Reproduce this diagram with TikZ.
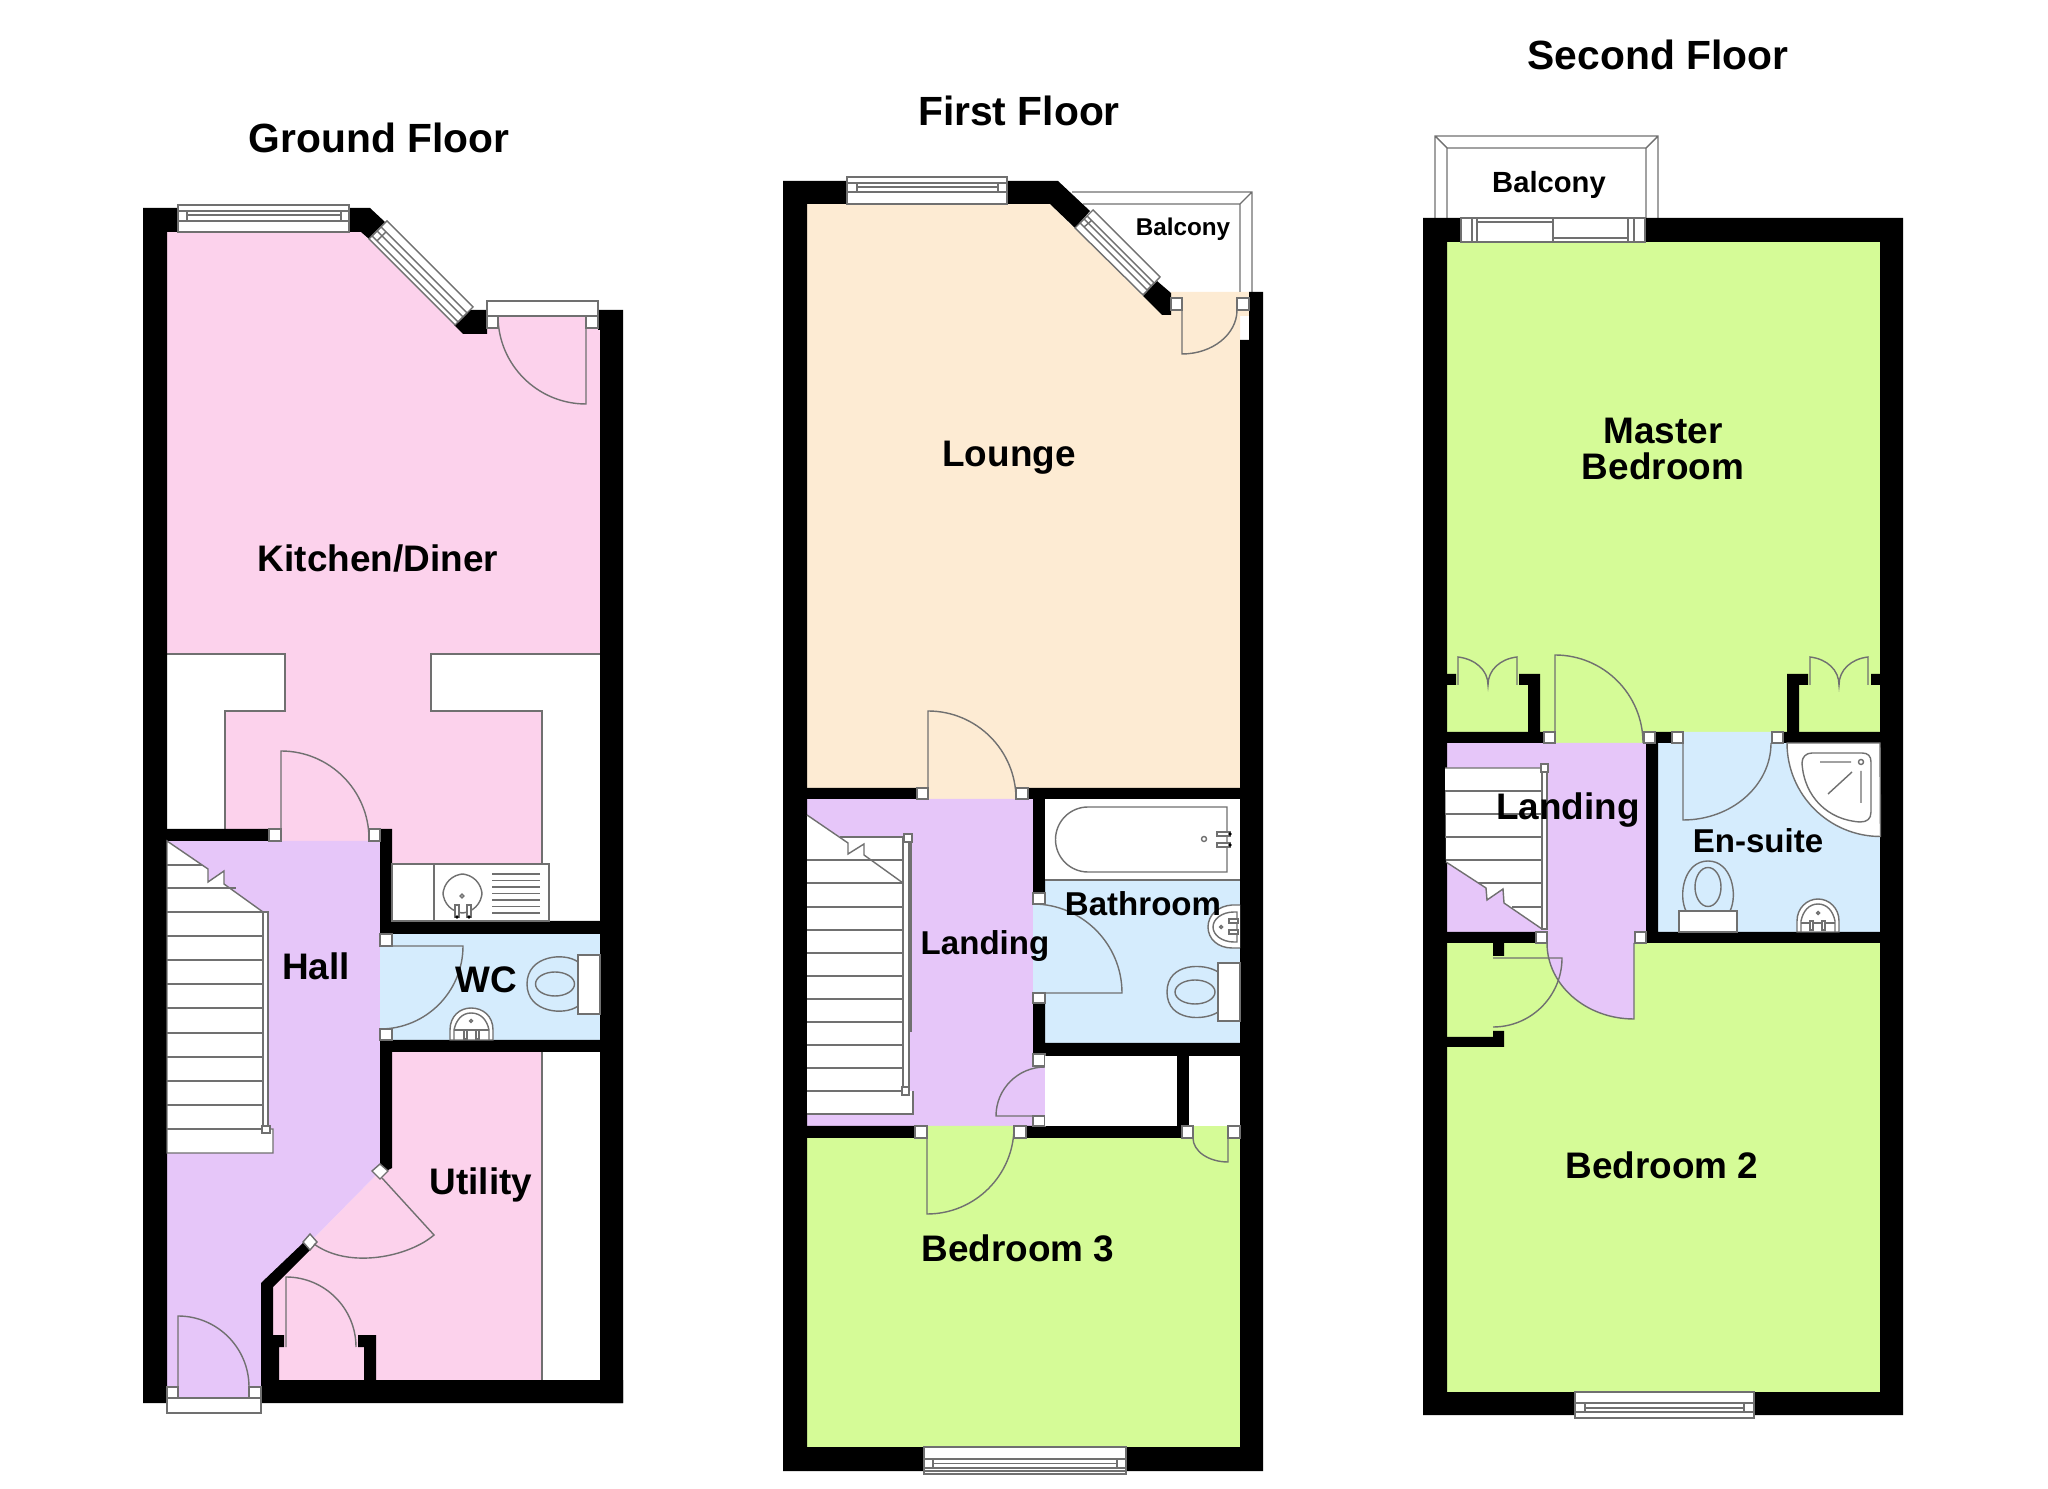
\documentclass[tikz,border=0pt]{standalone}
\usepackage{fontspec}
\setmainfont{Liberation Sans}
\definecolor{pinkroom}{HTML}{FCD2EC}
\definecolor{lavroom}{HTML}{E6C6F9}
\definecolor{blueroom}{HTML}{D5ECFD}
\definecolor{creamroom}{HTML}{FDEBD3}
\definecolor{greenroom}{HTML}{D5FB97}
\definecolor{planline}{HTML}{707070}
\tikzset{
  wall/.style={fill=black},
  fitting/.style={draw=planline,line width=0.4pt},
  whitepart/.style={fitting,fill=white},
  jamb/.style={whitepart},
  tap/.style={draw=planline,line width=0.4pt,fill=white},
  lbl/.style={font=\fontsize{10.5}{10.5}\selectfont\bfseries,inner sep=0pt,align=center},
  lblsmall/.style={font=\fontsize{9.4}{9.4}\selectfont\bfseries,inner sep=0pt},
  ttl/.style={font=\fontsize{11.6}{11.6}\selectfont\bfseries,inner sep=0pt}
}
\begin{document}
\begin{tikzpicture}[x=0.01cm,y=-0.01cm]
\useasboundingbox (0,0) rectangle (2048,1489);
\fill[pinkroom] (167,232) -- (361,232) -- (463,334) -- (487,334) -- (487,316) -- (598,316) -- (600,334) -- (600,654) -- (431,654) -- (431,711) -- (542,711) -- (542,864) -- (392,864) -- (392,841) -- (225,841) -- (225,711) -- (285,711) -- (285,654) -- (167,654) -- cycle;
\fill[pinkroom] (392,1052) -- (542,1052) -- (542,1380) -- (279,1380) -- (279,1347) -- (273,1335) -- (273,1287) -- (310,1242) -- (380,1171) -- (392,1168) -- cycle;
\fill[lavroom] (167,841) -- (380,841) -- (380,1171) -- (310,1242) -- (261,1283) -- (261,1398) -- (167,1398) -- cycle;
\fill[blueroom] (380,934) rectangle (600,1040);
\draw[fitting] (167,654) -- (285,654) -- (285,711) -- (225,711) -- (225,829);
\draw[fitting] (600,654) -- (431,654) -- (431,711) -- (542,711) -- (542,864);
\draw[fitting] (542,1052) -- (542,1380);
\fill[wall] (143,208) rectangle (167,1403) (167,208) rectangle (178,232) (600,310) rectangle (623,1403) (598,310) rectangle (600,330);
\fill[wall] (349,208) -- (370,208) -- (385,222) -- (369,239) -- (361,232) -- (349,232) -- cycle;
\fill[wall] (468,310) -- (487,310) -- (487,334) -- (463,334) -- (454,325) -- cycle;
\fill[wall] (167,829) rectangle (269,841) (380,829) rectangle (392,934) (392,921) rectangle (600,934) (380,1040) rectangle (600,1052);
\fill[wall] (380,1052) -- (392,1052) -- (392,1168) -- (386,1171) -- (380,1164) -- cycle;
\fill[wall] (303,1243) -- (261,1283) -- (261,1403) -- (623,1403) -- (623,1380) -- (279,1380) -- (279,1347) -- (284,1347) -- (284,1335) -- (273,1335) -- (273,1287) -- (310,1250) -- cycle;
\fill[wall] (358,1335) rectangle (376,1347) (364,1347) rectangle (376,1380);
\draw[whitepart] (178,205) rectangle (349,232);
\draw[fitting] (178,211) -- (349,211) (187,215) -- (341,215) (178,221) -- (349,221) (187,211) -- (187,221) (341,211) -- (341,221);
\draw[whitepart] (387,221) -- (473,307) -- (455,325) -- (369,239) -- cycle;
\draw[fitting] (381,227) -- (467,313) (377,231) -- (463,317) (372,236) -- (458,322) (381,227) -- (372,236) (467,313) -- (458,322) (386,232) -- (377,241);
\draw[whitepart] (487,301) rectangle (598,316);
\draw[jamb] (487,316) rectangle (498,328);
\draw[jamb] (586,316) rectangle (598,328);
\draw[fitting] (498,316) arc[start angle=180,end angle=90,radius=88] -- (586,316);
\draw[jamb] (269,829) rectangle (281,841);
\draw[jamb] (369,829) rectangle (380,841);
\draw[fitting] (281,841) -- (281,751) arc[start angle=-90,end angle=0,radius=88] -- (369,829);
\draw[jamb] (380,934) rectangle (392,946);
\draw[jamb] (380,1029) rectangle (392,1040);
\draw[fitting] (380,946) -- (463,946) arc[start angle=0,end angle=90,radius=83];
\draw[whitepart] (578,955) rectangle (600,1014);
\draw[fitting] (578,962) .. controls (565,952) and (527,955) .. (527,984) .. controls (527,1013) and (565,1016) .. (578,1006);
\draw[fitting] (555,984) ellipse [x radius=19.5,y radius=12];
\draw[whitepart] (450,1040) -- (450,1030) .. controls (450,1016) and (460,1008) .. (471,1008) .. controls (483,1008) and (493,1016) .. (493,1030) -- (493,1040) -- cycle;
\draw[fitting] (454,1040) -- (454,1030) .. controls (456,1020) and (462,1013) .. (471,1013) .. controls (481,1013) and (487,1020) .. (489,1030) -- (489,1040);
\draw[fitting] (454,1030) -- (489,1030);
\draw[tap] (464,1030) rectangle (467,1039);
\draw[tap] (476,1030) rectangle (479,1039);
\draw[fitting] (471,1021) circle (1.5);
\draw[whitepart] (392,864) rectangle (549,921);
\draw[fitting] (434,864) -- (434,921);
\draw[fitting,rounded corners=6] (443,874) rectangle (482,913);
\draw[tap] (455,905) rectangle (459,917);
\draw[tap] (467,905) rectangle (471,917);
\fill (457,917) circle (1.8) (469,917) circle (1.8);
\draw[fitting] (462,896) circle (1.8);
\foreach \yy in {874,880.5,887,893.5,900,906.5,913} \draw[fitting] (492,\yy) -- (540,\yy);
\draw[whitepart] (167,841) -- (208,869) -- (208,882) -- (224,871) -- (224,884) -- (263,912) -- (263,1129) -- (273,1129) -- (273,1153) -- (167,1153) -- cycle;
\foreach \yy in {865,888} \draw[fitting] (167,\yy) -- ({167+(\yy-841)*1.46},\yy);
\foreach \yy in {912,936,960,984,1008,1033,1057,1081,1105,1129} \draw[fitting] (167,\yy) -- (263,\yy);
\draw[whitepart] (263,912) rectangle (268,1129);
\draw[jamb] (262,1126) rectangle (270,1133);
\draw[jamb] (372,1171) -- (380,1164) -- (388,1171) -- (380,1179) -- cycle;
\draw[jamb] (303,1242) -- (310,1234) -- (317,1242) -- (310,1250) -- cycle;
\draw[fitting] (382,1178) -- (434,1235) .. controls (410,1256) and (350,1270) .. (314,1244);
\draw[fitting] (286,1347) -- (286,1277) arc[start angle=-90,end angle=0,radius=70];
\draw[jamb] (167,1387) rectangle (178,1398);
\draw[jamb] (249,1387) rectangle (261,1398);
\draw[whitepart] (167,1398) rectangle (261,1413);
\draw[fitting] (178,1387) -- (178,1316) arc[start angle=-90,end angle=0,radius=71];
\node[ttl] (ground) at (379,138) {Ground Floor};
\node[lbl] (kitchen) at (378,559) {Kitchen/Diner};
\node[lbl] (hall) at (316,966) {Hall};
\node[lbl] (wc) at (486,980) {WC};
\node[lbl] (utility) at (481,1185) {Utility};
\fill[creamroom] (807,204) -- (1050,204) -- (1143,296) -- (1162,315) -- (1171,315) -- (1171,292) -- (1249,292) -- (1249,316) -- (1240,316) -- (1240,788) -- (1016,788) -- (1016,799) -- (928,799) -- (928,788) -- (807,788) -- cycle;
\fill[lavroom] (807,799) rectangle (1033,1126) (1033,1066) rectangle (1045,1116);
\fill[blueroom] (1033,904) rectangle (1045,993) (1045,880) rectangle (1240,1043);
\fill[greenroom] (807,1138) rectangle (1240,1447) (927,1126) rectangle (1014,1138) (1193,1126) rectangle (1228,1138);
\draw[fitting] (1072,192) -- (1252,192) -- (1252,292) (1083,204) -- (1240,204) -- (1240,292) (1240,204) -- (1252,192);
\fill[wall] (783,181) rectangle (807,1471) (1240,340) rectangle (1263,1471) (1249,292) rectangle (1263,340) (807,181) rectangle (847,204);
\fill[wall] (1007,181) -- (1058,181) -- (1090,211) -- (1075,228) -- (1050,204) -- (1007,204) -- cycle;
\fill[wall] (1157,281) -- (1171,293) -- (1171,315) -- (1162,315) -- (1143,296) -- cycle;
\fill[wall] (807,788) rectangle (917,799) (1028,788) rectangle (1240,799) (1033,799) rectangle (1045,893) (1033,1003) rectangle (1045,1054) (1045,1043) rectangle (1240,1056) (1177,1056) rectangle (1189,1126);
\fill[wall] (807,1126) rectangle (915,1138) (1026,1126) rectangle (1182,1138) (807,1447) rectangle (1240,1471);
\draw[whitepart] (847,177) rectangle (1007,204);
\draw[fitting] (847,183) -- (1007,183) (857,187) -- (998,187) (847,192) -- (1007,192) (857,183) -- (857,192) (998,183) -- (998,192);
\draw[whitepart] (924,1447) rectangle (1126,1474);
\draw[fitting] (924,1459) -- (1126,1459) (933,1463.5) -- (1117,1463.5) (924,1468) -- (1126,1468) (924,1471) -- (1126,1471) (933,1459) -- (933,1468) (1117,1459) -- (1117,1468);
\draw[whitepart] (1093,210) -- (1160,277) -- (1143,295) -- (1075,228) -- cycle;
\draw[fitting] (1087,216) -- (1154,283) (1084,219) -- (1151,286) (1080,223) -- (1147,290) (1087,216) -- (1080,223) (1154,283) -- (1147,290) (1091,221) -- (1084,227);
\draw[jamb] (1171,298) rectangle (1182,310);
\draw[jamb] (1237,298) rectangle (1249,310);
\draw[fitting] (1182,310) -- (1182,354) arc[start angle=90,end angle=0,x radius=55,y radius=44];
\draw[jamb] (917,788) rectangle (928,799);
\draw[jamb] (1016,788) rectangle (1028,799);
\draw[fitting] (928,799) -- (928,711) arc[start angle=-90,end angle=0,radius=88] -- (1016,788);
\fill[white] (1045,799) rectangle (1240,880);
\draw[fitting] (1045,880) -- (1240,880);
\draw[fitting] (1088,807) -- (1227,807) -- (1227,872) -- (1088,872) arc[start angle=90,end angle=270,radius=32.5];
\draw[tap] (1217,832) rectangle (1230,836);
\draw[tap] (1217,843) rectangle (1230,847);
\fill (1230,834) circle (1.8) (1230,845) circle (1.8);
\draw[fitting] (1204,839) circle (2.5);
\draw[jamb] (1033,893) rectangle (1045,904);
\draw[jamb] (1033,993) rectangle (1045,1003);
\draw[fitting] (1033,993) -- (1122,993) arc[start angle=0,end angle=-90,radius=89];
\draw[whitepart] (1240,905) -- (1232,905) .. controls (1218,906) and (1208,915) .. (1208,927) .. controls (1208,939) and (1218,948) .. (1232,948) -- (1240,948);
\draw[fitting] (1237,912) -- (1234,912) .. controls (1222,912) and (1213,919) .. (1213,927) .. controls (1213,935) and (1222,942) .. (1234,942) -- (1237,942) -- cycle;
\draw[tap] (1229,919) rectangle (1238,923);
\draw[tap] (1229,930) rectangle (1238,934);
\draw[fitting] (1221,927) circle (1.5);
\draw[whitepart] (1218,963) rectangle (1240,1021);
\draw[fitting] (1218,972) .. controls (1205,963) and (1167,962) .. (1167,992) .. controls (1167,1022) and (1205,1021) .. (1218,1012);
\draw[fitting] (1195,992) ellipse [x radius=20,y radius=12];
\draw[jamb] (1033,1054) rectangle (1045,1066);
\draw[jamb] (1033,1116) rectangle (1045,1126);
\draw[fitting] (1045,1116) -- (996,1116) arc[start angle=180,end angle=270,radius=49];
\fill[white] (1045,1056) rectangle (1177,1126);
\fill[white] (1189,1056) rectangle (1240,1126);
\fill[white] (807,815) -- (840,837) -- (903,837) -- (903,1091) -- (913,1091) -- (913,1114) -- (807,1114) -- cycle;
\draw[fitting] (807,815) -- (848,843) -- (848,854) -- (864,844) -- (864,855) -- (903,883);
\draw[fitting] (840,837) -- (903,837) (913,1091) -- (913,1114) -- (807,1114);
\foreach \yy in {860,883,907,930,953,976,999,1022,1045,1068,1091} \draw[fitting] (807,\yy) -- (903,\yy);
\draw[whitepart] (903,838) rectangle (909,1091);
\draw[fitting] (911,838) -- (911,1032);
\draw[jamb] (904,834) rectangle (912,842);
\draw[jamb] (902,1087) rectangle (909,1095);
\draw[jamb] (915,1126) rectangle (927,1138);
\draw[jamb] (1014,1126) rectangle (1026,1138);
\draw[fitting] (927,1126) -- (927,1214) arc[start angle=90,end angle=0,radius=87];
\draw[jamb] (1182,1126) rectangle (1193,1138);
\draw[jamb] (1228,1126) rectangle (1240,1138);
\draw[fitting] (1228,1138) -- (1228,1162) arc[start angle=90,end angle=180,x radius=35,y radius=24];
\node[ttl] (first) at (1019,111) {First Floor};
\node[lbl] (lounge) at (1009,458) {Lounge};
\node[lbl,font=\fontsize{6.9}{6.9}\selectfont\bfseries] (balconyone) at (1183,229) {Balcony};
\node[lblsmall] (landingone) at (985,946) {Landing};
\node[lblsmall] (bathroom) at (1143,904) {Bathroom};
\node[lbl] (bedroomthree) at (1018,1248) {Bedroom 3};
\fill[greenroom] (1447,242) rectangle (1880,732) (1555,732) rectangle (1644,743) (1447,943) rectangle (1880,1392);
\fill[lavroom] (1447,743) rectangle (1646,932) (1547,932) rectangle (1635,943);
\fill[blueroom] (1658,743) rectangle (1880,932) (1683,732) rectangle (1772,743);
\fill[lavroom] (1634,943) -- (1634,1019) arc[start angle=90,end angle=180,x radius=87,y radius=76] -- cycle;
\draw[fitting] (1435,218) -- (1435,136) -- (1658,136) -- (1658,218) (1447,218) -- (1447,148) -- (1646,148) -- (1646,218) (1435,136) -- (1447,148) (1658,136) -- (1646,148);
\fill[wall] (1423,218) rectangle (1447,1415) (1880,218) rectangle (1903,1415) (1447,218) rectangle (1461,242) (1645,218) rectangle (1880,242) (1447,1392) rectangle (1880,1415);
\fill[wall] (1447,732) rectangle (1544,743) (1655,732) rectangle (1672,743) (1783,732) rectangle (1880,743);
\fill[wall] (1528,674) rectangle (1540,732) (1519,674) rectangle (1528,685) (1447,674) rectangle (1456,685);
\fill[wall] (1787,674) rectangle (1799,732) (1799,674) rectangle (1808,685) (1871,674) rectangle (1880,685);
\fill[wall] (1646,743) rectangle (1658,943) (1646,932) rectangle (1880,943) (1447,932) rectangle (1536,943) (1493,943) rectangle (1504,956);
\fill[wall] (1447,1037) rectangle (1504,1047) (1493,1031) rectangle (1504,1037);
\draw[whitepart] (1461,218) rectangle (1645,242);
\draw[fitting] (1472,218) -- (1472,242) (1477,218) -- (1477,242) (1628,218) -- (1628,242) (1634,218) -- (1634,242) (1553,218) -- (1553,242) (1477,222) -- (1553,222) (1553,238) -- (1628,238);
\draw[fitting] (1458,685) -- (1458,657) .. controls (1475,659) and (1488,670) .. (1488,685) .. controls (1488,670) and (1500,659) .. (1517,657) -- (1517,685);
\draw[fitting] (1810,685) -- (1810,657) .. controls (1827,659) and (1839,670) .. (1839,685) .. controls (1839,670) and (1851,659) .. (1868,657) -- (1868,685);
\draw[jamb] (1544,732) rectangle (1555,743);
\draw[jamb] (1644,732) rectangle (1655,743);
\draw[fitting] (1555,743) -- (1555,655) arc[start angle=-90,end angle=0,radius=88];
\draw[jamb] (1672,732) rectangle (1683,743);
\draw[jamb] (1772,732) rectangle (1783,743);
\draw[fitting] (1683,743) -- (1683,820) arc[start angle=90,end angle=0,x radius=88,y radius=77];
\draw[whitepart] (1787,743) arc[start angle=180,end angle=90,radius=93.5] -- (1880,743) -- cycle;
\draw[fitting] (1812,753) -- (1862,753) .. controls (1868,753) and (1871,756) .. (1871,762) -- (1871,812) .. controls (1871,819) and (1867,822) .. (1860,822) .. controls (1828,820) and (1804,797) .. (1802,763) .. controls (1802,757) and (1806,753) .. (1812,753) -- cycle;
\draw[fitting] (1820,762) -- (1851,762) (1861,771) -- (1861,803) (1828,794) -- (1852,772);
\draw[fitting] (1861,762) circle (2.5);
\draw[whitepart] (1679,911) rectangle (1737,932);
\draw[fitting] (1686,911) .. controls (1678,895) and (1684,861) .. (1708,861) .. controls (1732,861) and (1738,895) .. (1730,911);
\draw[fitting] (1708,887) ellipse [x radius=13,y radius=19.5];
\draw[whitepart] (1797,932) -- (1797,921) .. controls (1797,908) and (1807,899) .. (1818,899) .. controls (1829,899) and (1839,908) .. (1839,921) -- (1839,932) -- cycle;
\draw[fitting] (1801,932) -- (1801,921) .. controls (1803,911) and (1809,904) .. (1818,904) .. controls (1827,904) and (1833,911) .. (1835,921) -- (1835,932);
\draw[fitting] (1801,923) -- (1835,923);
\draw[tap] (1810,921) rectangle (1813,930);
\draw[tap] (1822,921) rectangle (1825,930);
\draw[fitting] (1818,913) circle (1.5);
\fill[white] (1445,768) -- (1542,768) -- (1542,929) -- (1504,903) -- (1503,889) -- (1487,900) -- (1486,888) -- (1446,862) -- cycle;
\draw[fitting] (1445,768) -- (1542,768) (1446,862) -- (1486,888) -- (1487,900) -- (1503,889) -- (1504,903) -- (1542,929);
\foreach \yy in {791,814,837} \draw[fitting] (1445,\yy) -- (1542,\yy);
\draw[fitting] (1446,860) -- (1542,860) (1478,883) -- (1542,883) (1512,907) -- (1542,907);
\draw[whitepart] (1542,772) rectangle (1547,929);
\draw[jamb] (1541,764) rectangle (1548,772);
\draw[jamb] (1536,932) rectangle (1547,943);
\draw[jamb] (1635,932) rectangle (1646,943);
\draw[fitting] (1634,943) -- (1634,1019) arc[start angle=90,end angle=180,x radius=87,y radius=76];
\draw[fitting] (1493,958) -- (1562,958) arc[start angle=0,end angle=90,radius=69];
\draw[whitepart] (1575,1392) rectangle (1754,1418);
\draw[fitting] (1575,1403) -- (1754,1403) (1585,1408) -- (1744,1408) (1575,1412) -- (1754,1412) (1585,1403) -- (1585,1412) (1744,1403) -- (1744,1412);
\node[ttl] (second) at (1658,55) {Second Floor};
\node[lbl,font=\fontsize{8.3}{8.3}\selectfont\bfseries] (balconytwo) at (1549,185) {Balcony};
\node[lbl] (master) at (1663,449) {Master\\Bedroom};
\node[lbl] (landingtwo) at (1568,810) {Landing};
\node[lblsmall] (ensuite) at (1758,841) {En-suite};
\node[lbl] (bedroomtwo) at (1662,1165) {Bedroom 2};
\end{tikzpicture}
\end{document}
